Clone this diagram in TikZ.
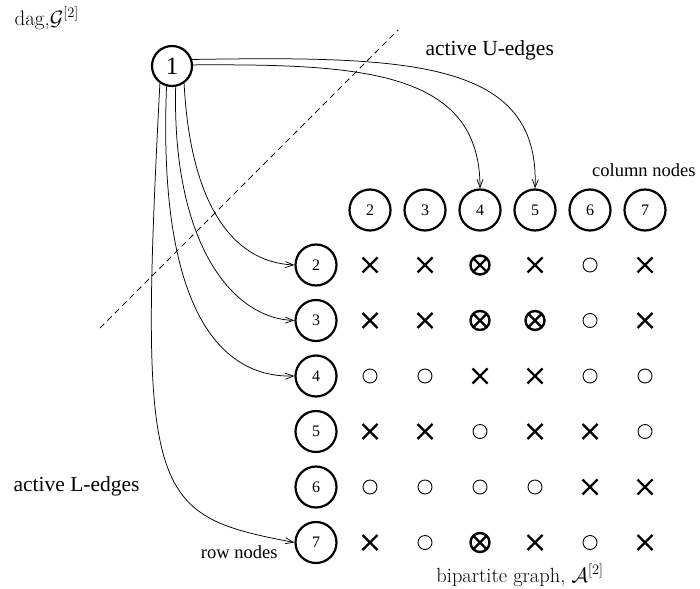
\documentclass[tikz,border=0pt]{standalone}
\usepackage{fontspec}
\setmainfont{Liberation Serif}
\newfontfamily\lmr{Latin Modern Roman}
\usetikzlibrary{arrows.meta}
\begin{document}
\begin{tikzpicture}[x=1pt,y=-1pt,
  vtx/.style={circle, draw, line width=2.2pt, minimum size=41pt, inner sep=0pt,
    font=\fontsize{16}{16}\selectfont},
  edge/.style={line width=0.75pt, -{Straight Barb[length=8pt,width=6pt]}},
  lbl/.style={font=\fontsize{21.5}{24}\selectfont},
  small/.style={font=\fontsize{18.5}{20}\selectfont},
  xmark/.pic={\draw[line width=2.4pt] (-7.5,-7.5) -- (7.5,7.5) (-7.5,7.5) -- (7.5,-7.5);},
  omark/.pic={\draw[line width=0.9pt] (0,0) circle (7);},
  oxmark/.pic={\draw[line width=2.4pt] (0,0) circle (9.5)
     (-6.7,-6.7) -- (6.7,6.7) (-6.7,6.7) -- (6.7,-6.7);}
]
\useasboundingbox (0,0) rectangle (700,588);

% source vertex of the dag
\node[vtx, minimum size=40pt, font=\fontsize{25}{25}\selectfont] (n1) at (172,66) {1};

% column nodes
\foreach \k/\x in {2/370,3/425,4/480,5/535,6/590,7/645}
  \node[vtx] (c\k) at (\x,210) {\k};

% row nodes
\foreach \k/\y in {2/265,3/320.5,4/376,5/431.5,6/487,7/542.5}
  \node[vtx] (r\k) at (316,\y) {\k};

% bipartite entries: x = cross, o = circle, b = circled cross
\foreach \row/\y in {{x,x,b,x,o,x}/265,{x,x,b,b,o,x}/320.5,{o,o,x,x,o,o}/376,
                     {x,x,o,x,x,o}/431.5,{o,o,o,o,x,x}/487,{x,o,b,x,o,x}/542.5}{
  \foreach \m [count=\i] in \row {
    \pgfmathsetmacro{\xx}{315+55*\i}
    \if\m x \pic at (\xx,\y) {xmark};\fi
    \if\m o \pic at (\xx,\y) {omark};\fi
    \if\m b \pic at (\xx,\y) {oxmark};\fi
  }
}

% separating diagonal
\coordinate (d1) at (100,328);
\coordinate (d2) at (398,30);
\draw[line width=0.8pt, dash pattern=on 6pt off 4.5pt] (d1) -- (d2);

% active U-edges
\draw[edge] (n1.3) .. controls (360,64) and (480,70) .. (c4.north);
\draw[edge] (n1.18) .. controls (410,56) and (540,60) .. (c5.north);

% active L-edges
\draw[edge] (n1.-55) .. controls (190,200) and (230,262) .. (r2.west);
\draw[edge] (n1.-80) .. controls (172,240) and (230,318) .. (r3.west);
\draw[edge] (n1.-105) .. controls (158,300) and (215,378) .. (r4.west);
\draw[edge] (n1.-125) .. controls (138,500) and (150,515) .. (r7.west);

% labels
\node[anchor=west, font=\lmr\fontsize{21}{22}\selectfont] (tg) at (11,18) {dag,$\mathcal{G}^{[2]}$};
\node[lbl, anchor=west] (tu) at (422,50) {active U-edges};
\node[small, anchor=east] (tc) at (699,170) {column nodes};
\node[lbl, anchor=west] (tl) at (10,486) {active L-edges};
\node[small, anchor=east] (tr) at (281,552) {row nodes};
\node[font=\lmr\fontsize{20.5}{22}\selectfont] (tb) at (520,575) {bipartite graph, $\mathcal{A}^{[2]}$};
\end{tikzpicture}
\end{document}
